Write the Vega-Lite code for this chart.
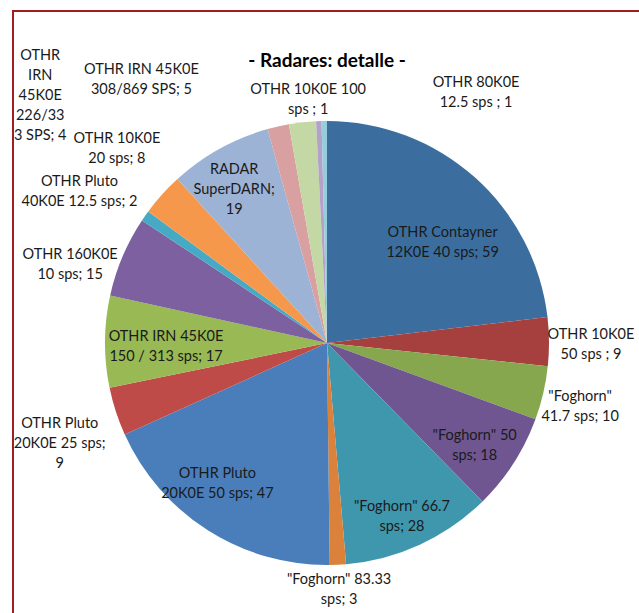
{
  "$schema": "https://vega.github.io/schema/vega-lite/v6.json",
  "width": 628,
  "height": 664,
  "autosize": "none",
  "padding": {"left": 13, "top": 11, "right": 0, "bottom": 0},
  "background": "white",
  "title": {
    "text": "- Radares: detalle -",
    "frame": "group",
    "anchor": "middle",
    "offset": -61,
    "font": "Lato",
    "fontSize": 19,
    "fontWeight": "bold",
    "color": "#000000"
  },
  "config": {
    "view": {"stroke": null},
    "text": {"font": "Lato", "fontSize": 14.5, "color": "#1a1a1a", "lineBreak": "\n", "lineHeight": 20, "align": "center", "baseline": "middle"}
  },
  "data": {
    "values": [
      {"order": 1, "name": "OTHR Contayner 12K0E 40 sps", "value": 59, "label": "OTHR Contayner\n12K0E 40 sps; 59"},
      {"order": 2, "name": "OTHR 10K0E 50 sps", "value": 9, "label": "OTHR 10K0E\n50 sps ; 9"},
      {"order": 3, "name": "Foghorn 41.7 sps", "value": 10, "label": "\"Foghorn\"\n41.7 sps; 10"},
      {"order": 4, "name": "Foghorn 50 sps", "value": 18, "label": "\"Foghorn\" 50\nsps; 18"},
      {"order": 5, "name": "Foghorn 66.7 sps", "value": 28, "label": "\"Foghorn\" 66.7\nsps; 28"},
      {"order": 6, "name": "Foghorn 83.33 sps", "value": 3, "label": "\"Foghorn\" 83.33\nsps; 3"},
      {"order": 7, "name": "OTHR Pluto 20K0E 50 sps", "value": 47, "label": "OTHR Pluto\n20K0E 50 sps; 47"},
      {"order": 8, "name": "OTHR Pluto 20K0E 25 sps", "value": 9, "label": "OTHR Pluto\n20K0E 25 sps;\n9"},
      {"order": 9, "name": "OTHR IRN 45K0E 150 / 313 sps", "value": 17, "label": "OTHR IRN 45K0E\n150 / 313 sps; 17"},
      {"order": 10, "name": "OTHR 160K0E 10 sps", "value": 15, "label": "OTHR 160K0E\n10 sps; 15"},
      {"order": 11, "name": "OTHR Pluto 40K0E 12.5 sps", "value": 2, "label": "OTHR Pluto\n40K0E 12.5 sps; 2"},
      {"order": 12, "name": "OTHR 10K0E 20 sps", "value": 8, "label": "OTHR 10K0E\n20 sps; 8"},
      {"order": 13, "name": "RADAR SuperDARN", "value": 19, "label": "RADAR\nSuperDARN;\n19"},
      {"order": 14, "name": "OTHR IRN 45K0E 226/333 SPS", "value": 4, "label": "OTHR\nIRN\n45K0E\n226/33\n3 SPS; 4"},
      {"order": 15, "name": "OTHR IRN 45K0E 308/869 SPS", "value": 5, "label": "OTHR IRN 45K0E\n308/869 SPS; 5"},
      {"order": 16, "name": "OTHR 10K0E 100 sps", "value": 1, "label": "OTHR 10K0E 100\nsps ; 1"},
      {"order": 17, "name": "OTHR 80K0E 12.5 sps", "value": 1, "label": "OTHR 80K0E\n12.5 sps ; 1"}
    ]
  },
  "layer": [
    {
      "data": {"values": [{"frame": "outline"}]},
      "mark": {"type": "rect", "filled": false, "stroke": "#A01E22", "strokeWidth": 2},
      "encoding": {}
    },
    {
      "encoding": {
        "theta": {"field": "value", "type": "quantitative", "stack": true},
        "order": {"field": "order", "type": "quantitative"}
      },
      "layer": [
        {
          "mark": {"type": "arc", "outerRadius": 222},
          "encoding": {
            "color": {
              "field": "name",
              "type": "nominal",
              "legend": null,
              "scale": {
                "domain": [
                  "OTHR Contayner 12K0E 40 sps", "OTHR 10K0E 50 sps", "Foghorn 41.7 sps", "Foghorn 50 sps",
                  "Foghorn 66.7 sps", "Foghorn 83.33 sps", "OTHR Pluto 20K0E 50 sps", "OTHR Pluto 20K0E 25 sps",
                  "OTHR IRN 45K0E 150 / 313 sps", "OTHR 160K0E 10 sps", "OTHR Pluto 40K0E 12.5 sps", "OTHR 10K0E 20 sps",
                  "RADAR SuperDARN", "OTHR IRN 45K0E 226/333 SPS", "OTHR IRN 45K0E 308/869 SPS", "OTHR 10K0E 100 sps",
                  "OTHR 80K0E 12.5 sps"
                ],
                "range": [
                  "#3B6E9E", "#A5403E", "#87A74E", "#6F5690", "#3F97AE", "#DA823B", "#4A7EBB", "#BE4B48",
                  "#98B954", "#7D60A0", "#46AAC5", "#F5984C", "#9DB3D6", "#D8A0A0", "#C4D8A6", "#B3A2C8", "#96CCDC"
                ]
              }
            }
          }
        },
        {
          "mark": {"type": "text", "radius": 165, "dx": 6, "dy": 13},
          "encoding": {"text": {"condition": {"test": "datum.order == 1", "field": "label"}, "value": ""}}
        },
        {
          "mark": {"type": "text", "radius": 165, "dx": 9, "dy": 4},
          "encoding": {"text": {"condition": {"test": "datum.order == 4", "field": "label"}, "value": ""}}
        },
        {
          "mark": {"type": "text", "radius": 165, "dx": 6, "dy": 14},
          "encoding": {"text": {"condition": {"test": "datum.order == 5", "field": "label"}, "value": ""}}
        },
        {
          "mark": {"type": "text", "radius": 165, "dx": -21, "dy": -8},
          "encoding": {"text": {"condition": {"test": "datum.order == 7", "field": "label"}, "value": ""}}
        },
        {
          "mark": {"type": "text", "radius": 165, "dx": 4, "dy": -5},
          "encoding": {"text": {"condition": {"test": "datum.order == 9", "field": "label"}, "value": ""}}
        },
        {
          "mark": {"type": "text", "radius": 165, "dx": -13, "dy": -29},
          "encoding": {"text": {"condition": {"test": "datum.order == 13", "field": "label"}, "value": ""}}
        },
        {
          "mark": {"type": "text", "radius": 265, "dx": -1, "dy": -6},
          "encoding": {"text": {"condition": {"test": "datum.order == 2", "field": "label"}, "value": ""}}
        },
        {
          "mark": {"type": "text", "radius": 265, "dx": -5, "dy": -6},
          "encoding": {"text": {"condition": {"test": "datum.order == 3", "field": "label"}, "value": ""}}
        },
        {
          "mark": {"type": "text", "radius": 245, "dy": -8},
          "encoding": {"text": {"condition": {"test": "datum.order == 6", "field": "label"}, "value": ""}}
        },
        {
          "mark": {"type": "text", "radius": 280, "dx": -1, "dy": -6},
          "encoding": {"text": {"condition": {"test": "datum.order == 8", "field": "label"}, "value": ""}}
        },
        {
          "mark": {"type": "text", "radius": 280, "dx": 1, "dy": 21},
          "encoding": {"text": {"condition": {"test": "datum.order == 10", "field": "label"}, "value": ""}}
        },
        {
          "mark": {"type": "text", "radius": 280, "dx": -18, "dy": -1},
          "encoding": {"text": {"condition": {"test": "datum.order == 11", "field": "label"}, "value": ""}}
        },
        {
          "mark": {"type": "text", "radius": 280, "dx": -2, "dy": -17},
          "encoding": {"text": {"condition": {"test": "datum.order == 12", "field": "label"}, "value": ""}}
        },
        {
          "mark": {"type": "text", "radius": 240, "dx": -234, "dy": -53},
          "encoding": {"text": {"condition": {"test": "datum.order == 14", "field": "label"}, "value": ""}}
        },
        {
          "mark": {"type": "text", "radius": 240, "dx": -159, "dy": -34},
          "encoding": {"text": {"condition": {"test": "datum.order == 15", "field": "label"}, "value": ""}}
        },
        {
          "mark": {"type": "text", "radius": 240, "dx": -10, "dy": -13},
          "encoding": {"text": {"condition": {"test": "datum.order == 16", "field": "label"}, "value": ""}}
        },
        {
          "mark": {"type": "text", "radius": 240, "dx": 152, "dy": -20},
          "encoding": {"text": {"condition": {"test": "datum.order == 17", "field": "label"}, "value": ""}}
        }
      ]
    }
  ]
}
